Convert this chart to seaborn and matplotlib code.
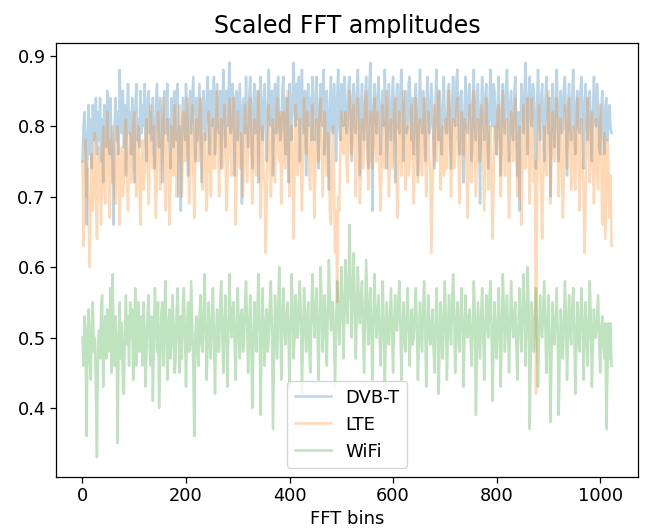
import numpy as np
import pandas as pd
import matplotlib
matplotlib.use("Agg")
import matplotlib.pyplot as plt
import seaborn as sns

# FFT bin positions (every 2nd bin)
bins = list(range(0, 1024, 2))

dvbt = [
    0.75, 0.80, 0.82, 0.77, 0.66, 0.79, 0.83, 0.76, 0.81, 0.74, 0.83, 0.78, 0.80, 0.84, 0.76, 0.82,
    0.78, 0.84, 0.75, 0.81, 0.72, 0.83, 0.79, 0.77, 0.85, 0.80, 0.76, 0.84, 0.78, 0.75, 0.66, 0.80,
    0.84, 0.78, 0.82, 0.76, 0.88, 0.81, 0.79, 0.85, 0.77, 0.83, 0.73, 0.80, 0.86, 0.79, 0.82, 0.76,
    0.84, 0.80, 0.72, 0.82, 0.86, 0.78, 0.81, 0.77, 0.85, 0.79, 0.83, 0.80, 0.86, 0.78, 0.75, 0.84,
    0.85, 0.79, 0.82, 0.78, 0.84, 0.76, 0.74, 0.83, 0.86, 0.80, 0.77, 0.84, 0.81, 0.72, 0.79, 0.85,
    0.79, 0.83, 0.86, 0.78, 0.81, 0.74, 0.84, 0.80, 0.77, 0.85, 0.82, 0.78, 0.86, 0.70, 0.80, 0.68,
    0.79, 0.84, 0.81, 0.78, 0.86, 0.80, 0.73, 0.82, 0.85, 0.79, 0.83, 0.87, 0.80, 0.75, 0.84, 0.78,
    0.82, 0.86, 0.79, 0.72, 0.83, 0.85, 0.80, 0.78, 0.84, 0.87, 0.81, 0.76, 0.85, 0.80, 0.83, 0.87,
    0.76, 0.82, 0.86, 0.80, 0.79, 0.85, 0.74, 0.81, 0.88, 0.83, 0.77, 0.85, 0.80, 0.84, 0.89, 0.79,
    0.80, 0.86, 0.82, 0.73, 0.84, 0.85, 0.78, 0.82, 0.86, 0.80, 0.69, 0.83, 0.84, 0.79, 0.87, 0.81,
    0.77, 0.84, 0.87, 0.80, 0.74, 0.83, 0.86, 0.79, 0.82, 0.85, 0.72, 0.81, 0.87, 0.80, 0.78, 0.84,
    0.86, 0.79, 0.75, 0.83, 0.88, 0.81, 0.80, 0.85, 0.73, 0.82, 0.86, 0.79, 0.84, 0.87, 0.80, 0.78,
    0.79, 0.85, 0.87, 0.80, 0.76, 0.84, 0.82, 0.72, 0.86, 0.81, 0.78, 0.85, 0.89, 0.82, 0.80, 0.86,
    0.81, 0.87, 0.75, 0.83, 0.88, 0.80, 0.79, 0.85, 0.73, 0.82, 0.86, 0.80, 0.84, 0.78, 0.87, 0.81,
    0.78, 0.84, 0.87, 0.80, 0.74, 0.83, 0.86, 0.81, 0.80, 0.88, 0.76, 0.82, 0.85, 0.79, 0.71, 0.83,
    0.87, 0.80, 0.79, 0.86, 0.82, 0.75, 0.84, 0.88, 0.80, 0.78, 0.86, 0.82, 0.80, 0.87, 0.84, 0.79,
    0.80, 0.86, 0.87, 0.81, 0.75, 0.84, 0.86, 0.80, 0.79, 0.85, 0.88, 0.82, 0.73, 0.83, 0.86, 0.80,
    0.78, 0.84, 0.87, 0.81, 0.74, 0.85, 0.89, 0.82, 0.68, 0.80, 0.86, 0.83, 0.79, 0.84, 0.87, 0.81,
    0.76, 0.83, 0.85, 0.80, 0.88, 0.82, 0.74, 0.81, 0.86, 0.80, 0.78, 0.84, 0.87, 0.81, 0.72, 0.83,
    0.86, 0.80, 0.79, 0.85, 0.88, 0.82, 0.75, 0.83, 0.85, 0.79, 0.80, 0.86, 0.87, 0.81, 0.78, 0.84,
    0.76, 0.83, 0.86, 0.80, 0.73, 0.82, 0.88, 0.81, 0.79, 0.85, 0.83, 0.75, 0.80, 0.87, 0.84, 0.79,
    0.80, 0.86, 0.82, 0.78, 0.74, 0.84, 0.88, 0.81, 0.78, 0.85, 0.80, 0.76, 0.83, 0.87, 0.81, 0.79,
    0.79, 0.85, 0.86, 0.80, 0.74, 0.83, 0.87, 0.81, 0.80, 0.86, 0.88, 0.82, 0.76, 0.84, 0.85, 0.79,
    0.72, 0.82, 0.87, 0.80, 0.79, 0.85, 0.86, 0.81, 0.75, 0.83, 0.88, 0.80, 0.78, 0.84, 0.86, 0.80,
    0.69, 0.81, 0.87, 0.82, 0.78, 0.84, 0.86, 0.80, 0.74, 0.83, 0.88, 0.81, 0.80, 0.86, 0.85, 0.79,
    0.76, 0.83, 0.87, 0.80, 0.73, 0.82, 0.86, 0.81, 0.79, 0.85, 0.88, 0.82, 0.75, 0.83, 0.85, 0.79,
    0.78, 0.84, 0.87, 0.81, 0.73, 0.82, 0.68, 0.80, 0.86, 0.83, 0.79, 0.85, 0.89, 0.82, 0.76, 0.84,
    0.87, 0.81, 0.80, 0.86, 0.85, 0.79, 0.74, 0.83, 0.88, 0.82, 0.78, 0.84, 0.86, 0.80, 0.75, 0.83,
    0.87, 0.82, 0.79, 0.84, 0.70, 0.81, 0.86, 0.80, 0.77, 0.84, 0.88, 0.82, 0.75, 0.83, 0.85, 0.79,
    0.80, 0.86, 0.87, 0.81, 0.73, 0.83, 0.86, 0.80, 0.78, 0.84, 0.88, 0.81, 0.76, 0.83, 0.85, 0.80,
    0.79, 0.85, 0.87, 0.81, 0.74, 0.83, 0.86, 0.80, 0.78, 0.84, 0.85, 0.79, 0.75, 0.82, 0.87, 0.81,
    0.80, 0.86, 0.83, 0.77, 0.76, 0.82, 0.85, 0.79, 0.76, 0.83, 0.84, 0.78, 0.80, 0.83, 0.80, 0.79,
]

lte = [
    0.75, 0.63, 0.72, 0.78, 0.70, 0.74, 0.66, 0.60, 0.71, 0.76, 0.68, 0.73, 0.79, 0.70, 0.64, 0.75,
    0.77, 0.71, 0.66, 0.74, 0.80, 0.72, 0.69, 0.76, 0.82, 0.74, 0.67, 0.78, 0.72, 0.80, 0.75, 0.70,
    0.69, 0.76, 0.80, 0.71, 0.66, 0.75, 0.77, 0.70, 0.72, 0.79, 0.81, 0.73, 0.68, 0.76, 0.79, 0.72,
    0.74, 0.80, 0.82, 0.75, 0.70, 0.77, 0.80, 0.73, 0.66, 0.74, 0.78, 0.71, 0.73, 0.79, 0.81, 0.75,
    0.69, 0.76, 0.83, 0.78, 0.74, 0.80, 0.72, 0.67, 0.75, 0.82, 0.79, 0.71, 0.74, 0.79, 0.84, 0.76,
    0.68, 0.75, 0.81, 0.74, 0.66, 0.72, 0.80, 0.77, 0.73, 0.83, 0.79, 0.70, 0.74, 0.80, 0.83, 0.76,
    0.70, 0.77, 0.82, 0.75, 0.76, 0.84, 0.79, 0.69, 0.73, 0.80, 0.83, 0.74, 0.67, 0.75, 0.81, 0.77,
    0.75, 0.82, 0.84, 0.77, 0.71, 0.78, 0.79, 0.72, 0.68, 0.76, 0.82, 0.75, 0.70, 0.78, 0.81, 0.74,
    0.74, 0.80, 0.85, 0.78, 0.70, 0.77, 0.81, 0.74, 0.76, 0.83, 0.79, 0.68, 0.72, 0.80, 0.84, 0.77,
    0.73, 0.81, 0.84, 0.76, 0.66, 0.74, 0.82, 0.78, 0.74, 0.79, 0.76, 0.70, 0.75, 0.83, 0.80, 0.72,
    0.76, 0.82, 0.84, 0.77, 0.69, 0.75, 0.81, 0.74, 0.73, 0.80, 0.85, 0.78, 0.67, 0.74, 0.80, 0.73,
    0.72, 0.62, 0.70, 0.78, 0.83, 0.76, 0.70, 0.77, 0.81, 0.75, 0.72, 0.79, 0.84, 0.77, 0.75, 0.82,
    0.69, 0.76, 0.82, 0.75, 0.74, 0.81, 0.85, 0.78, 0.70, 0.77, 0.80, 0.73, 0.64, 0.75, 0.83, 0.79,
    0.73, 0.80, 0.81, 0.74, 0.68, 0.76, 0.84, 0.78, 0.76, 0.82, 0.80, 0.73, 0.71, 0.78, 0.83, 0.76,
    0.67, 0.74, 0.81, 0.77, 0.75, 0.82, 0.84, 0.77, 0.70, 0.76, 0.82, 0.78, 0.73, 0.79, 0.76, 0.68,
    0.66, 0.74, 0.80, 0.72, 0.62, 0.68, 0.55, 0.70, 0.68, 0.76, 0.82, 0.77, 0.76, 0.80, 0.82, 0.75,
    0.72, 0.79, 0.85, 0.78, 0.76, 0.82, 0.83, 0.76, 0.70, 0.78, 0.84, 0.79, 0.69, 0.76, 0.81, 0.74,
    0.77, 0.83, 0.85, 0.78, 0.71, 0.78, 0.82, 0.75, 0.74, 0.81, 0.84, 0.77, 0.75, 0.82, 0.80, 0.73,
    0.68, 0.75, 0.83, 0.79, 0.74, 0.80, 0.85, 0.78, 0.70, 0.76, 0.81, 0.74, 0.76, 0.83, 0.84, 0.77,
    0.67, 0.74, 0.82, 0.78, 0.73, 0.80, 0.85, 0.79, 0.71, 0.77, 0.80, 0.73, 0.75, 0.82, 0.83, 0.76,
    0.69, 0.76, 0.84, 0.79, 0.72, 0.78, 0.81, 0.74, 0.73, 0.80, 0.84, 0.78, 0.70, 0.76, 0.82, 0.75,
    0.74, 0.62, 0.70, 0.78, 0.83, 0.76, 0.75, 0.81, 0.85, 0.78, 0.71, 0.77, 0.80, 0.73, 0.74, 0.81,
    0.74, 0.82, 0.85, 0.78, 0.70, 0.77, 0.81, 0.74, 0.76, 0.82, 0.84, 0.77, 0.69, 0.75, 0.82, 0.76,
    0.76, 0.81, 0.80, 0.73, 0.67, 0.74, 0.83, 0.77, 0.72, 0.79, 0.85, 0.78, 0.70, 0.77, 0.81, 0.75,
    0.75, 0.83, 0.82, 0.75, 0.68, 0.76, 0.84, 0.78, 0.71, 0.78, 0.80, 0.73, 0.64, 0.72, 0.80, 0.77,
    0.76, 0.82, 0.83, 0.77, 0.70, 0.76, 0.85, 0.79, 0.73, 0.80, 0.81, 0.74, 0.67, 0.74, 0.82, 0.78,
    0.75, 0.81, 0.84, 0.77, 0.70, 0.77, 0.80, 0.73, 0.66, 0.74, 0.83, 0.78, 0.74, 0.81, 0.84, 0.77,
    0.69, 0.76, 0.84, 0.78, 0.72, 0.75, 0.42, 0.70, 0.78, 0.83, 0.76, 0.71, 0.64, 0.73, 0.80, 0.75,
    0.73, 0.80, 0.85, 0.78, 0.69, 0.76, 0.82, 0.76, 0.75, 0.81, 0.84, 0.77, 0.70, 0.77, 0.81, 0.74,
    0.67, 0.74, 0.83, 0.78, 0.74, 0.80, 0.84, 0.77, 0.71, 0.78, 0.80, 0.73, 0.71, 0.79, 0.84, 0.77,
    0.68, 0.75, 0.81, 0.74, 0.71, 0.62, 0.70, 0.80, 0.84, 0.77, 0.72, 0.79, 0.82, 0.75, 0.69, 0.76,
    0.81, 0.74, 0.71, 0.78, 0.83, 0.76, 0.66, 0.73, 0.79, 0.64, 0.71, 0.78, 0.75, 0.67, 0.73, 0.63,
]

wifi = [
    0.50, 0.46, 0.53, 0.49, 0.36, 0.51, 0.54, 0.47, 0.44, 0.52, 0.55, 0.48, 0.50, 0.42, 0.33, 0.49,
    0.51, 0.47, 0.54, 0.56, 0.43, 0.50, 0.53, 0.47, 0.54, 0.48, 0.51, 0.57, 0.45, 0.59, 0.52, 0.46,
    0.53, 0.48, 0.35, 0.50, 0.55, 0.47, 0.52, 0.44, 0.42, 0.51, 0.56, 0.49, 0.53, 0.46, 0.55, 0.50,
    0.54, 0.44, 0.50, 0.57, 0.46, 0.52, 0.55, 0.48, 0.50, 0.53, 0.46, 0.55, 0.51, 0.43, 0.49, 0.54,
    0.56, 0.48, 0.46, 0.53, 0.41, 0.50, 0.57, 0.52, 0.48, 0.55, 0.40, 0.47, 0.53, 0.55, 0.46, 0.51,
    0.58, 0.50, 0.44, 0.52, 0.54, 0.47, 0.49, 0.56, 0.52, 0.45, 0.47, 0.54, 0.57, 0.50, 0.45, 0.53,
    0.47, 0.55, 0.57, 0.50, 0.43, 0.51, 0.55, 0.48, 0.49, 0.58, 0.52, 0.46, 0.36, 0.50, 0.53, 0.48,
    0.46, 0.53, 0.56, 0.49, 0.48, 0.54, 0.59, 0.51, 0.44, 0.50, 0.55, 0.49, 0.47, 0.53, 0.57, 0.50,
    0.42, 0.50, 0.54, 0.48, 0.48, 0.55, 0.58, 0.51, 0.45, 0.52, 0.56, 0.50, 0.43, 0.51, 0.59, 0.53,
    0.50, 0.54, 0.55, 0.49, 0.44, 0.52, 0.57, 0.51, 0.47, 0.53, 0.54, 0.48, 0.49, 0.55, 0.58, 0.52,
    0.45, 0.51, 0.56, 0.50, 0.40, 0.48, 0.55, 0.51, 0.48, 0.54, 0.59, 0.52, 0.39, 0.49, 0.57, 0.51,
    0.46, 0.52, 0.54, 0.48, 0.50, 0.55, 0.58, 0.51, 0.37, 0.47, 0.56, 0.52, 0.47, 0.53, 0.60, 0.54,
    0.44, 0.51, 0.57, 0.52, 0.49, 0.53, 0.55, 0.50, 0.43, 0.52, 0.59, 0.54, 0.47, 0.51, 0.56, 0.50,
    0.50, 0.55, 0.58, 0.52, 0.42, 0.50, 0.57, 0.53, 0.48, 0.52, 0.55, 0.49, 0.45, 0.53, 0.59, 0.54,
    0.50, 0.54, 0.57, 0.51, 0.44, 0.52, 0.60, 0.55, 0.48, 0.53, 0.56, 0.50, 0.46, 0.54, 0.61, 0.55,
    0.51, 0.55, 0.55, 0.49, 0.43, 0.52, 0.58, 0.54, 0.49, 0.54, 0.60, 0.55, 0.47, 0.53, 0.61, 0.56,
    0.52, 0.58, 0.66, 0.57, 0.50, 0.56, 0.62, 0.55, 0.47, 0.53, 0.60, 0.54, 0.52, 0.56, 0.58, 0.51,
    0.45, 0.53, 0.61, 0.55, 0.49, 0.54, 0.57, 0.51, 0.44, 0.52, 0.59, 0.54, 0.50, 0.53, 0.56, 0.50,
    0.46, 0.52, 0.58, 0.52, 0.43, 0.50, 0.55, 0.50, 0.49, 0.53, 0.57, 0.51, 0.45, 0.52, 0.56, 0.51,
    0.51, 0.55, 0.58, 0.52, 0.44, 0.50, 0.55, 0.50, 0.48, 0.53, 0.57, 0.52, 0.46, 0.51, 0.54, 0.49,
    0.50, 0.54, 0.57, 0.51, 0.44, 0.50, 0.55, 0.50, 0.48, 0.54, 0.58, 0.52, 0.43, 0.50, 0.56, 0.51,
    0.49, 0.52, 0.54, 0.49, 0.45, 0.52, 0.57, 0.52, 0.42, 0.49, 0.55, 0.50, 0.47, 0.53, 0.58, 0.52,
    0.44, 0.51, 0.56, 0.52, 0.49, 0.55, 0.59, 0.53, 0.45, 0.51, 0.55, 0.50, 0.48, 0.53, 0.57, 0.52,
    0.43, 0.50, 0.56, 0.51, 0.50, 0.53, 0.54, 0.49, 0.46, 0.52, 0.58, 0.53, 0.39, 0.48, 0.55, 0.51,
    0.47, 0.53, 0.57, 0.51, 0.44, 0.51, 0.56, 0.52, 0.50, 0.55, 0.58, 0.52, 0.41, 0.49, 0.55, 0.50,
    0.47, 0.52, 0.57, 0.51, 0.43, 0.51, 0.59, 0.54, 0.48, 0.53, 0.56, 0.51, 0.45, 0.52, 0.58, 0.53,
    0.50, 0.53, 0.55, 0.49, 0.44, 0.51, 0.57, 0.52, 0.48, 0.54, 0.59, 0.53, 0.46, 0.53, 0.60, 0.54,
    0.37, 0.48, 0.55, 0.50, 0.48, 0.53, 0.57, 0.51, 0.43, 0.50, 0.56, 0.51, 0.50, 0.54, 0.58, 0.52,
    0.45, 0.51, 0.56, 0.50, 0.38, 0.47, 0.55, 0.51, 0.49, 0.53, 0.57, 0.51, 0.39, 0.47, 0.54, 0.50,
    0.47, 0.52, 0.58, 0.53, 0.44, 0.51, 0.56, 0.51, 0.49, 0.54, 0.57, 0.51, 0.42, 0.49, 0.55, 0.50,
    0.48, 0.53, 0.57, 0.52, 0.44, 0.50, 0.55, 0.50, 0.46, 0.52, 0.58, 0.53, 0.43, 0.49, 0.54, 0.50,
    0.50, 0.53, 0.56, 0.50, 0.45, 0.51, 0.53, 0.49, 0.47, 0.52, 0.37, 0.45, 0.52, 0.47, 0.52, 0.46,
]

series_names = ["DVB-T", "LTE", "WiFi"]

fig = plt.figure(figsize=(6.58, 5.28), dpi=100)
ax = fig.add_axes([56 / 658, 1 - 477 / 528, 582 / 658, 434 / 528])

colors = ["#1f77b4", "#ff7f0e", "#2ca02c"]
for name, vals, c in zip(series_names, [dvbt, lte, wifi], colors):
    df = pd.DataFrame({"bin": bins, "amp": vals})
    sns.lineplot(data=df, x="bin", y="amp", ax=ax, color=c, alpha=0.3,
                 linewidth=1.8, label=name)

ax.set_title("Scaled FFT amplitudes", fontsize=17, pad=7)
ax.set_xlabel("FFT bins", fontsize=13, labelpad=3)
ax.set_ylabel("")
ax.set_xticks([0, 200, 400, 600, 800, 1000])
ax.set_yticks([0.4, 0.5, 0.6, 0.7, 0.8, 0.9])
ax.tick_params(labelsize=12.8, length=4, width=0.9)
for sp in ax.spines.values():
    sp.set_linewidth(0.9)
ax.legend(loc="lower center", fontsize=13, frameon=True)

fig.savefig("out.png", dpi=100)
